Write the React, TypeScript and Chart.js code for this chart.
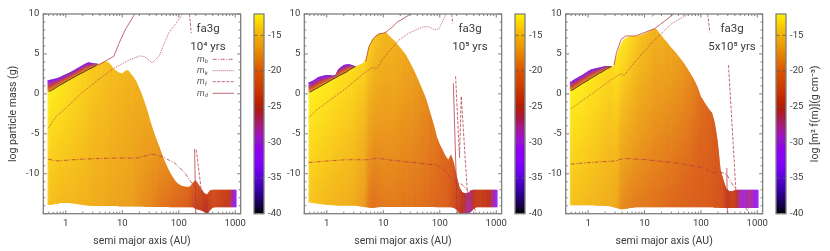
import React, { useEffect, useRef } from "react";
import { Chart, registerables } from "chart.js";

Chart.register(...registerables);

const FONT = "Roboto";
const INK = "#3a3a3a";
const FRAME = "#808080";
const LINE = "rgba(176,56,66,0.85)";

const logAxisColumns = [
  -0.3,-0.25,-0.2,-0.15,-0.1,-0.05,0,0.05,0.1,0.15,
  0.2,0.25,0.3,0.35,0.4,0.45,0.5,0.55,0.6,0.65,
  0.7,0.75,0.8,0.85,0.9,0.95,1,1.05,1.1,1.15,
  1.2,1.25,1.3,1.35,1.4,1.45,1.5,1.55,1.6,1.65,
  1.7,1.75,1.8,1.85,1.9,1.95,2,2.05,2.1,2.15,
  2.2,2.25,2.3,2.35,2.4,2.45,2.5,2.55,2.6,2.65,
  2.7,2.75,2.8,2.85,2.9,2.95,3,
];
const xTickValues = [0.4,0.5,0.6,0.7,0.8,0.9,1,2,3,4,5,6,7,8,9,10,20,30,40,50,60,70,80,90,100,200,300,400,500,600,700,800,900,1000];
const xMajorLabels = [1, 10, 100, 1000];
const yLabelled = [10, 5, 0, -5, -10];
const colorbarTicks = [-15, -20, -25, -30, -35, -40];
const paletteValues = [-12, -13.5, -15, -17, -20, -22.5, -25, -26.5, -28, -29.5, -31, -33, -35, -37, -39, -40];
const paletteColors = ["#fff200","#fbd000","#f2b000","#e99000","#d95400","#cc3a00","#b61a00","#a81a40","#a41a90","#9c10d0","#9000f0","#8000ff","#5a00d8","#34009a","#120040","#000000"];

// ---------- panel 1: 10^4 yrs
const p1Top = [
  0.3,0.45,0.65,0.9,1.1,1.3,1.5,1.7,1.9,2.1,
  2.3,2.5,2.65,2.85,3.05,3.2,3.4,3.6,3.75,3.95,
  4.05,4,3.6,3.1,2.85,2.65,2.55,2.85,3,2.55,
  2.1,1.55,0.75,-0.1,-1.15,-2.2,-3.5,-4.6,-5.6,-6.5,
  -7.5,-8.4,-9.2,-9.9,-10.5,-11,-11.3,-11.5,-11.6,-11.65,
  -11.6,-11.1,-10.8,-11.3,-11.9,-12.4,-12.6,-12.1,-12,-12,
  -12,-12,-12,-12,-12,-12,-12,
];
const p1Bottom = [
  -13.9,-13.9,-13.8,-13.8,-13.65,-13.65,-13.65,-13.65,-13.7,-13.75,
  -13.8,-13.85,-13.9,-13.95,-14,-14,-14.05,-14.05,-14.05,-14.05,
  -14.05,-14.05,-14.05,-14.05,-14.05,-14.1,-14.1,-14.1,-14.1,-14.1,
  -14.1,-14.1,-14.1,-14.1,-14.15,-14.15,-14.15,-14.15,-14.15,-14.15,
  -14.15,-14.15,-14.15,-14.2,-14.2,-14.2,-14.2,-14.2,-14.2,-14.2,
  -14.2,-14.2,-14.4,-14.5,-14.6,-14.8,-15,-14.6,-14.25,-14.2,
  -14.2,-14.2,-14.2,-14.2,-14.2,-14.2,-14.2,
];
const p1ValueTop = [
  -12.3,-12.4,-12.5,-12.6,-12.7,-12.8,-12.9,-13,-13.2,-13.3,
  -13.4,-13.5,-13.6,-13.7,-13.8,-14,-14.1,-14.2,-14.3,-14.4,
  -14.5,-14.6,-14.7,-14.8,-14.9,-15,-15.1,-15.2,-15.3,-15.4,
  -15.5,-15.6,-15.7,-15.8,-16,-16.2,-16.4,-16.6,-16.9,-17.2,
  -17.5,-17.8,-18.1,-18.4,-18.7,-19,-19.2,-19.4,-19.6,-19.8,
  -20,-20.5,-21,-22,-22.5,-23,-23.5,-23,-22.5,-22.5,
  -23,-23,-23.5,-23.5,-24,-26,-32,
];
const p1ValueBottom = [
  -14.6,-14.7,-14.8,-14.9,-15,-15,-15.1,-15.1,-15.2,-15.2,
  -15.3,-15.3,-15.4,-15.5,-15.6,-15.7,-15.8,-15.9,-16,-16,
  -16.1,-16.2,-16.3,-16.4,-16.5,-16.5,-16.6,-16.7,-16.8,-16.9,
  -17,-17.2,-17.4,-17.6,-17.8,-18,-18.2,-18.4,-18.6,-18.8,
  -19,-19.2,-19.4,-19.6,-19.8,-20,-20.2,-20.4,-20.6,-20.8,
  -21,-23,-23.5,-24,-24,-25,-26,-24,-23,-23,
  -23.5,-23.5,-24,-24,-24.5,-28,-33,
];
const p1CapTop = [1.75,1.8,1.9,2,2.1,2.3,2.45,2.6,2.8,3,3.2,3.4,3.6,3.8,3.95,3.9,3.85,3.8];
const p1Mk = [[-0.31,-4.3],[-0.17,-2.8],[0,-1.8],[0.28,0.1],[0.57,1.75],[0.85,3.2],[1.14,4.3],[1.31,4.75],[1.39,4.67],[1.53,3.9],[1.65,4.7],[1.82,7.6],[1.99,9.2],[2.07,10]];
const p1Mb = [[-0.31,-8.17],[-0.17,-8.4],[0.28,-8.17],[0.85,-8.04],[1.25,-8.04],[1.53,-7.55],[1.7,-7.83],[1.93,-8.67],[2.1,-9.83],[2.21,-10.96],[2.33,-12],[2.39,-12.6]];
const p1Md = [[0.57,3.6],[0.7,4.1],[0.85,4.7],[0.94,6.3],[1.05,8],[1.22,10],[1.23,null],[2.28,null],[2.28,-6.9],[2.3,-15]];
const p1Mf = [[2.19,10],[2.22,7.6],[2.23,null],[2.29,null],[2.31,-7],[2.39,-11.6],[2.45,-13.3],[2.54,-15]];

// ---------- panel 2: 10^5 yrs
const p2Top = [
  0.2,0.4,0.6,0.8,1,1.2,1.4,1.6,1.8,2,
  2.2,2.4,2.55,2.75,3,3.2,3.4,3.55,3.7,3.9,
  4.5,6,6.7,7.1,7.45,7.55,7.6,7.7,7.3,6.95,
  6.65,6.2,5.8,5.35,4.9,4.25,3.55,2.85,2.05,1.25,
  0.4,-0.45,-1.6,-2.8,-4,-5.4,-6.3,-7,-7.75,-8.25,
  -7.6,-8.6,-10.3,-11.7,-12.3,-12.45,-12.4,-12.05,-12,-12,
  -12,-12,-12,-12,-12,-12,-12,
];
const p2Bottom = [
  -13.6,-13.65,-13.7,-13.75,-13.8,-13.85,-13.9,-13.9,-13.95,-13.95,
  -14,-14,-14,-14,-14,-14,-14,-14.05,-14.1,-14.15,
  -14.2,-14.25,-14.3,-14.25,-14.2,-14.15,-14.15,-14.15,-14.15,-14.15,
  -14.15,-14.15,-14.15,-14.15,-14.15,-14.15,-14.15,-14.15,-14.15,-14.15,
  -14.15,-14.15,-14.15,-14.15,-14.15,-14.2,-14.2,-14.2,-14.2,-14.2,
  -14.2,-14.3,-14.5,-15,-15,-15,-15,-14.8,-14.4,-14.2,
  -14.2,-14.2,-14.2,-14.2,-14.2,-14.2,-14.2,
];
const p2ValueTop = [
  -12.2,-12.3,-12.3,-12.4,-12.4,-12.5,-12.6,-12.6,-12.7,-12.8,
  -12.9,-13,-13,-13.1,-13.1,-13.2,-13.3,-13.4,-13.5,-13.6,
  -13.6,-13.8,-14,-14.3,-14.6,-14.8,-15,-15.1,-15.2,-15.3,
  -15.4,-15.6,-15.8,-16,-16.2,-16.4,-16.6,-16.8,-17,-17.3,
  -17.6,-17.9,-18.2,-18.5,-18.8,-19.1,-19.4,-19.7,-20,-20.2,
  -20.5,-21,-22,-23,-24,-25,-27,-28,-25,-24,
  -24,-24,-24,-24.5,-25,-27,-31,
];
const p2ValueBottom = [
  -14.4,-14.5,-14.6,-14.7,-14.8,-14.9,-15,-15.1,-15.2,-15.3,
  -15.4,-15.5,-15.5,-15.6,-15.7,-15.8,-16,-16.3,-16.6,-17,
  -17.5,-18.8,-19.2,-19.5,-19.3,-19.1,-18.9,-18.8,-18.8,-18.8,
  -18.9,-18.9,-19,-19,-19.1,-19.1,-19.2,-19.3,-19.3,-19.4,
  -19.5,-19.6,-19.7,-19.8,-19.9,-20,-20.2,-20.4,-20.6,-20.8,
  -21.5,-22.5,-23.5,-24,-25,-26,-28,-29,-25,-24,
  -24,-24,-24,-24.5,-25.5,-27.5,-32,
];
const p2CapTop = [1.5,1.65,1.85,2.1,2.2,2.3,2.35,2.35,2.3,2.35,3.05,3.35,3.6,3.7,3.7,3.6,3.5];
const p2Mk = [[-0.32,-2.96],[-0.16,-1.9],[0.32,0.58],[0.66,2.6],[0.8,3.3],[0.89,3.2],[1,4.46],[1.28,6.75],[1.45,7.6],[1.71,8.4],[1.81,8.4],[1.91,8],[1.99,8.2],[2.11,10]];
const p2Mb = [[-0.32,-8.6],[0,-8.4],[0.32,-8.25],[0.72,-8.25],[0.89,-8.05],[1.17,-8.33],[1.63,-8.67],[1.94,-8.9],[2.08,-9.5],[2.19,-10.5],[2.3,-11.2],[2.39,-11.3],[2.5,-12.2]];
const p2Md = [[0.69,4.05],[0.745,5.9],[0.83,7],[0.915,7.5],[1,7.6],[1.05,7.75],[1.15,8.3],[1.25,9],[1.35,9.4],[1.48,10],[1.49,null],[2.24,null],[2.24,1.33],[2.31,-15]];
const p2Mf = [[2.21,10],[2.23,8.8],[2.24,null],[2.27,null],[2.28,2.2],[2.35,-8],[2.38,-0.3],[2.49,-12.5],[2.53,-12.8],[2.65,-15]];

// ---------- panel 3: 5x10^5 yrs
const p3Top = [
  0.4,0.6,0.85,1.05,1.3,1.5,1.7,1.95,2.15,2.35,
  2.6,2.75,3,3.2,3.35,3.45,4.67,5.7,6.5,6.9,
  7.1,7.2,7.25,7.25,7.3,7.4,7.55,7.7,7.9,8.1,
  8.2,7.75,7.3,6.85,6.45,6,5.6,5.2,4.75,4.3,
  3.85,3.3,2.7,2.15,1.5,0.7,-0.33,-0.9,-1.45,-1.95,
  -2.4,-3.7,-6,-9.5,-10.75,-11.8,-12.15,-12.2,-12.05,-12,
  -12,-12,-12,-12,-12,-12,-12,
];
const p3Bottom = [
  -13.95,-13.95,-13.95,-13.95,-13.95,-13.95,-13.95,-13.95,-13.95,-14,
  -14,-14,-14.05,-14.05,-14.1,-14.2,-14.3,-14.4,-14.45,-14.4,
  -14.35,-14.3,-14.25,-14.2,-14.2,-14.2,-14.2,-14.2,-14.2,-14.2,
  -14.2,-14.2,-14.2,-14.2,-14.2,-14.2,-14.2,-14.2,-14.2,-14.2,
  -14.2,-14.2,-14.2,-14.2,-14.2,-14.2,-14.2,-14.2,-14.2,-14.2,
  -14.2,-14.25,-14.25,-14.3,-14.3,-14.3,-14.3,-14.3,-14.3,-14.3,
  -14.3,-14.3,-14.3,-14.3,-14.3,-14.3,-14.3,
];
const p3ValueTop = [
  -12.2,-12.3,-12.3,-12.4,-12.4,-12.5,-12.6,-12.7,-12.8,-12.9,
  -13,-13.1,-13.2,-13.3,-13.4,-13.4,-12.6,-12.5,-12.6,-12.8,
  -13,-13.3,-13.6,-13.9,-14.2,-14.5,-14.7,-14.9,-15.1,-15.3,
  -15.5,-15.6,-15.7,-15.9,-16,-16.2,-16.4,-16.6,-16.8,-17,
  -17.2,-17.5,-17.8,-18.2,-18.6,-19,-19.4,-19.7,-20,-20.3,
  -20.6,-21,-21.5,-21.5,-21.8,-23.5,-24,-23.5,-23,-25,
  -28.5,-29,-29.5,-28,-27.5,-30,-31,
];
const p3ValueBottom = [
  -14.5,-14.6,-14.7,-14.8,-14.9,-15,-15,-15.1,-15.2,-15.3,
  -15.4,-15.5,-15.6,-15.7,-15.9,-16,-16.2,-16.6,-18,-18.2,
  -18.3,-18.5,-18.6,-18.7,-18.8,-18.9,-19,-19.1,-19.2,-19.3,
  -19.4,-19.5,-19.6,-19.7,-19.8,-19.9,-20,-20.1,-20.2,-20.3,
  -20.4,-20.5,-20.6,-20.7,-20.8,-20.9,-21,-21,-21.1,-21.2,
  -21.3,-21.5,-21.8,-22,-22.2,-23.8,-24.2,-23.8,-23.2,-25.2,
  -28.8,-29.2,-29.8,-28.2,-27.8,-30.2,-31.2,
];
const p3CapTop = [1.55,1.8,2,2.2,2.4,2.6,2.85,3.05,3.15,3.25,3.3,3.4,3.5,3.5,3.5];
const p3Mk = [[-0.31,-1.87],[0,-0.33],[0.36,1.54],[0.57,2.5],[0.64,2.33],[0.81,3.83],[1.15,6.54],[1.49,8.83],[1.78,10]];
const p3Mb = [[-0.31,-8.8],[0,-8.6],[0.47,-8.4],[0.64,-8.08],[1.04,-8.25],[1.6,-8.67],[2.06,-9.3],[2.23,-9.9],[2.32,-9.7],[2.46,-10.1],[2.54,-11.1],[2.62,-12]];
const p3Md = [[0.46,3.6],[0.5,5.08],[0.585,6.83],[0.67,7.25],[0.84,7.25],[1.18,8.17],[1.52,10],[1.53,null],[2.45,null],[2.46,-9.3],[2.47,-15]];
const p3Mf = [[1.13,9.7],[1.18,10],[1.19,null],[2.11,null],[2.12,10],[2.16,7.7],[2.17,null],[2.48,null],[2.49,3.6],[2.62,-12],[2.63,null],[2.79,null],[2.8,-14.3],[2.86,-15]];

const rgbOf = (hex: string) => [1, 3, 5].map((k) => parseInt(hex.slice(k, k + 2), 16));
function paletteColor(v: number) {
  const x = Math.min(-12, Math.max(-40, v));
  let i = 0;
  while (i < paletteValues.length - 2 && x < paletteValues[i + 1]) i++;
  const t = (paletteValues[i] - x) / (paletteValues[i] - paletteValues[i + 1]);
  const a = rgbOf(paletteColors[i]);
  const b = rgbOf(paletteColors[i + 1]);
  return `rgb(${a.map((c, k) => Math.round(c + (b[k] - c) * t)).join(",")})`;
}

function columnGradient(c: any, yTop: number, yBottom: number, vTop: number, vBottom: number) {
  if (!c.chart.chartArea) return paletteColor(vTop);
  const y = c.chart.scales.y;
  const g = c.chart.ctx.createLinearGradient(0, y.getPixelForValue(yTop), 0, y.getPixelForValue(yBottom));
  for (let s = 0; s <= 8; s++) g.addColorStop(s / 8, paletteColor(vTop + ((vBottom - vTop) * s) / 8));
  return g;
}

function outlinePath(chart: any, top: number[], bottom: number[]) {
  const { x, y } = chart.scales;
  const n = top.length;
  const half = 0.025;
  const ctx = chart.ctx;
  ctx.beginPath();
  ctx.moveTo(x.getPixelForValue(10 ** (logAxisColumns[0] - half)), y.getPixelForValue(top[0]));
  for (let i = 0; i < n; i++) ctx.lineTo(x.getPixelForValue(10 ** logAxisColumns[i]), y.getPixelForValue(top[i]));
  ctx.lineTo(x.getPixelForValue(10 ** (logAxisColumns[n - 1] + half)), y.getPixelForValue(top[n - 1]));
  ctx.lineTo(x.getPixelForValue(10 ** (logAxisColumns[n - 1] + half)), y.getPixelForValue(bottom[n - 1]));
  for (let i = n - 1; i >= 0; i--) ctx.lineTo(x.getPixelForValue(10 ** logAxisColumns[i]), y.getPixelForValue(bottom[i]));
  ctx.lineTo(x.getPixelForValue(10 ** (logAxisColumns[0] - half)), y.getPixelForValue(bottom[0]));
  ctx.closePath();
}

const outlineClip = {
  id: "outlineClip",
  beforeDatasetDraw(chart: any, args: any) {
    const d = chart.data.datasets[args.index];
    if (!d.outline) return;
    chart.ctx.save();
    outlinePath(chart, d.outline[0], d.outline[1]);
    chart.ctx.clip();
    chart.ctx.filter = "blur(1.4px)";
  },
  afterDatasetDraw(chart: any, args: any) {
    if (chart.data.datasets[args.index].outline) chart.ctx.restore();
  },
};

const frameTicks = {
  id: "frameTicks",
  afterDatasetsDraw(chart: any) {
    const { ctx, chartArea: a, scales } = chart;
    ctx.save();
    ctx.strokeStyle = "#5a5a5a";
    ctx.lineWidth = 0.8;
    const seg = (x1: number, y1: number, x2: number, y2: number) => {
      ctx.beginPath();
      ctx.moveTo(x1, y1);
      ctx.lineTo(x2, y2);
      ctx.stroke();
    };
    scales.y.ticks.forEach((t: any) => {
      const py = scales.y.getPixelForValue(t.value);
      const len = t.value % 5 === 0 ? 3.5 : 2;
      seg(a.left, py, a.left + len, py);
      seg(a.right, py, a.right - len, py);
    });
    if (scales.x.type === "logarithmic") {
      scales.x.ticks.forEach((t: any) => {
        const px = scales.x.getPixelForValue(t.value);
        const len = xMajorLabels.includes(t.value) ? 3.5 : 2;
        seg(px, a.bottom, px, a.bottom - len);
        seg(px, a.top, px, a.top + len);
      });
    }
    ctx.strokeStyle = FRAME;
    ctx.lineWidth = 1.3;
    ctx.strokeRect(a.left, a.top, a.right - a.left, a.bottom - a.top);
    ctx.restore();
  },
};

const panelNotes = {
  id: "panelNotes",
  afterDraw(chart: any) {
    const o = chart.options.plugins.panelNotes;
    if (!o) return;
    const { ctx } = chart;
    ctx.save();
    ctx.fillStyle = INK;
    ctx.textBaseline = "middle";
    ctx.textAlign = "center";
    ctx.font = `11.5px ${FONT}`;
    ctx.fillText(o.name, o.cx, 29);
    ctx.fillText(o.age, o.cx, 47);
    if (o.legend) {
      chart.data.datasets.filter((d: any) => d.inLegend).forEach((d: any, i: number) => {
        const y = [59.3, 70.7, 81.7, 93.3][i];
        ctx.textAlign = "left";
        ctx.fillStyle = "#555";
        ctx.font = `italic 9px ${FONT}`;
        ctx.fillText(d.label[0], 197, y);
        const w = ctx.measureText(d.label[0]).width;
        ctx.font = `italic 6px ${FONT}`;
        ctx.fillText(d.label.slice(1), 197 + w, y + 2.5);
        ctx.beginPath();
        ctx.strokeStyle = d.borderColor;
        ctx.lineWidth = d.borderWidth;
        ctx.setLineDash(d.borderDash || []);
        ctx.moveTo(212.7, y);
        ctx.lineTo(234, y);
        ctx.stroke();
      });
    }
    ctx.restore();
  },
};

const sideTitle = {
  id: "sideTitle",
  afterDraw(chart: any) {
    const o = chart.options.plugins.sideTitle;
    if (!o || !o.text) return;
    const { ctx, chartArea: a } = chart;
    ctx.save();
    ctx.translate(o.x, (a.top + a.bottom) / 2);
    ctx.rotate(-Math.PI / 2);
    ctx.textAlign = "center";
    ctx.textBaseline = "middle";
    ctx.fillStyle = INK;
    ctx.font = `10.5px ${FONT}`;
    ctx.fillText(o.text, 0, 0);
    ctx.restore();
  },
};

type Panel = {
  left: number; areaLeft: number; areaRight: number; yTitle: string;
  top: number[]; bottom: number[]; vTop: number[]; vBottom: number[]; capTop: number[];
  mb: any[]; mk: any[]; mf: any[]; md: any[];
  name: string; age: string; cx: number; legend: boolean;
  barLeft: number; barTitle: string;
};

const panels: Panel[] = [
  { left: 0, areaLeft: 43.3, areaRight: 248.3, yTitle: "log particle mass (g)", top: p1Top, bottom: p1Bottom, vTop: p1ValueTop, vBottom: p1ValueBottom, capTop: p1CapTop, mb: p1Mb, mk: p1Mk, mf: p1Mf, md: p1Md, name: "fa3g", age: "10\u2074 yrs", cx: 208, legend: true, barLeft: 253.7, barTitle: "" },
  { left: 261, areaLeft: 304.3, areaRight: 509, yTitle: "", top: p2Top, bottom: p2Bottom, vTop: p2ValueTop, vBottom: p2ValueBottom, capTop: p2CapTop, mb: p2Mb, mk: p2Mk, mf: p2Mf, md: p2Md, name: "fa3g", age: "10\u2075 yrs", cx: 209, legend: false, barLeft: 515, barTitle: "" },
  { left: 522, areaLeft: 565.7, areaRight: 770, yTitle: "", top: p3Top, bottom: p3Bottom, vTop: p3ValueTop, vBottom: p3ValueBottom, capTop: p3CapTop, mb: p3Mb, mk: p3Mk, mf: p3Mf, md: p3Md, name: "fa3g", age: "5x10\u2075 yrs", cx: 210, legend: false, barLeft: 776, barTitle: "log [m\u00b2 f(m)](g cm\u207b\u00b3)" },
];

const AREA_TOP = 14;
const AREA_BOTTOM = 213.7;
const HEIGHT = 251;
const WIDTH = 250;

const toPoints = (pairs: any[]) => pairs.map(([lg, m]) => ({ x: 10 ** lg, y: m }));
const neighbours = (arr: number[], i: number) => [arr[i - 1] ?? arr[i], arr[i], arr[i + 1] ?? arr[i]];

function mainConfig(p: Panel): any {
  const body = logAxisColumns.map((lg, i) => ({
    x: 10 ** lg,
    y: [Math.min(...neighbours(p.bottom, i)) - 1, Math.max(...neighbours(p.top, i)) + 1],
  }));
  const capBottom = p.top.slice(0, p.capTop.length);
  const cap = p.capTop.map((hi, i) => ({
    x: 10 ** logAxisColumns[i],
    y: [Math.min(...neighbours(capBottom, i)) - 1, Math.max(...neighbours(p.capTop, i)) + 1],
  }));
  const lineStyle = { type: "line", borderColor: LINE, borderWidth: 0.9, pointRadius: 0, fill: false, tension: 0, spanGaps: false, order: 1, inLegend: true };
  return {
    type: "bar",
    data: {
      datasets: [
        {
          label: "dust", data: body, order: 10, grouped: false, outline: [p.top, p.bottom],
          barPercentage: 1.5, categoryPercentage: 1, borderWidth: 0,
          backgroundColor: (c: any) =>
            c.dataIndex === undefined ? paletteColor(-15) : columnGradient(c, p.top[c.dataIndex], p.bottom[c.dataIndex], p.vTop[c.dataIndex], p.vBottom[c.dataIndex]),
        },
        {
          label: "upper edge", data: cap, order: 9, grouped: false, outline: [p.capTop, capBottom],
          barPercentage: 1.5, categoryPercentage: 1, borderWidth: 0,
          backgroundColor: (c: any) =>
            c.dataIndex === undefined ? paletteColor(-30) : columnGradient(c, p.capTop[c.dataIndex], capBottom[c.dataIndex], -35, -17),
        },
        { type: "line", label: "edge line", data: capBottom.map((m, i) => ({ x: 10 ** logAxisColumns[i], y: m })), borderColor: "#26221a", borderWidth: 0.8, pointRadius: 0, order: 2 },
        { ...lineStyle, label: "mb", data: toPoints(p.mb), borderDash: [4, 1.5, 1, 1.5] },
        { ...lineStyle, label: "mk", data: toPoints(p.mk), borderDash: [1, 1] },
        { ...lineStyle, label: "mf", data: toPoints(p.mf), borderDash: [3, 1.5] },
        { ...lineStyle, label: "md", data: toPoints(p.md) },
      ],
    },
    options: {
      animation: false,
      responsive: false,
      devicePixelRatio: 1,
      layout: { padding: { top: AREA_TOP, bottom: 0, left: 0, right: WIDTH - (p.areaRight - p.left) } },
      plugins: {
        legend: { display: false },
        tooltip: { enabled: false },
        panelNotes: { name: p.name, age: p.age, cx: p.cx, legend: p.legend },
      },
      scales: {
        x: {
          type: "logarithmic",
          min: 0.4,
          max: 1245,
          grid: { display: false, drawTicks: false },
          border: { display: false },
          afterBuildTicks: (s: any) => { s.ticks = xTickValues.map((value) => ({ value })); },
          afterFit: (s: any) => { s.height = HEIGHT - AREA_BOTTOM; },
          ticks: {
            autoSkip: false, maxRotation: 0, padding: 4, color: INK, font: { family: FONT, size: 9.5 },
            callback: (v: number) => (xMajorLabels.includes(v) ? String(v) : ""),
          },
          title: { display: true, text: "semi major axis (AU)", color: INK, font: { family: FONT, size: 10.5 }, padding: { top: 3, bottom: 3 } },
        },
        y: {
          type: "linear",
          min: -15,
          max: 10,
          grid: { display: false, drawTicks: false },
          border: { display: false },
          afterFit: (s: any) => { s.width = p.areaLeft - p.left; },
          ticks: {
            stepSize: 1, autoSkip: false, padding: 4, color: INK, font: { family: FONT, size: 9.5 },
            callback: (v: number) => (yLabelled.includes(v) ? String(v) : ""),
          },
          title: { display: !!p.yTitle, text: p.yTitle, color: INK, font: { family: FONT, size: 10.5 }, padding: { top: 7, bottom: 0 } },
        },
      },
    },
    plugins: [outlineClip, frameTicks, panelNotes],
  };
}

function barConfig(p: Panel, width: number): any {
  return {
    type: "bar",
    data: {
      labels: ["scale"],
      datasets: [
        {
          label: "colour scale", data: [[-40, -12]], barPercentage: 1, categoryPercentage: 1, borderWidth: 0,
          backgroundColor: (c: any) => {
            if (!c.chart.chartArea) return paletteColor(-20);
            const y = c.chart.scales.y;
            const g = c.chart.ctx.createLinearGradient(0, y.getPixelForValue(-12), 0, y.getPixelForValue(-40));
            paletteValues.forEach((v) => g.addColorStop((-12 - v) / 28, paletteColor(v)));
            return g;
          },
        },
      ],
    },
    options: {
      animation: false,
      responsive: false,
      devicePixelRatio: 1,
      layout: { padding: { top: AREA_TOP, bottom: HEIGHT - AREA_BOTTOM, left: 8, right: 0 } },
      plugins: {
        legend: { display: false },
        tooltip: { enabled: false },
        sideTitle: { text: p.barTitle, x: 815 - (p.barLeft - 8) },
      },
      scales: {
        x: { display: false },
        y: {
          position: "right",
          type: "linear",
          min: -40,
          max: -12,
          grid: { display: false, drawTicks: false },
          border: { display: false },
          afterBuildTicks: (s: any) => { s.ticks = colorbarTicks.map((value) => ({ value })); },
          afterFit: (s: any) => { s.width = width - 8 - 10; },
          ticks: { autoSkip: false, padding: 4, color: INK, font: { family: FONT, size: 9.5 }, callback: (v: number) => String(v) },
        },
      },
    },
    plugins: [frameTicks, sideTitle],
  };
}

function PanelView({ p }: { p: Panel }) {
  const main = useRef<HTMLCanvasElement>(null);
  const bar = useRef<HTMLCanvasElement>(null);
  const barWidth = p.barTitle ? 54 : 40;
  useEffect(() => {
    const a = new Chart(main.current!, mainConfig(p));
    const b = new Chart(bar.current!, barConfig(p, barWidth));
    return () => { a.destroy(); b.destroy(); };
  }, []);
  const soft = "blur(0.4px)";
  return (
    <>
      <canvas ref={main} width={WIDTH} height={HEIGHT} style={{ position: "absolute", left: p.left, top: 0, filter: soft, width: WIDTH, height: HEIGHT }} />
      <canvas ref={bar} width={barWidth} height={HEIGHT} style={{ position: "absolute", left: p.barLeft - 8, top: 0, filter: soft, width: barWidth, height: HEIGHT }} />
    </>
  );
}

export default function App() {
  return (
    <div style={{ position: "fixed", left: 0, top: 0, width: 830, height: 251, background: "#fff", overflow: "hidden" }}>
      {panels.map((p, i) => <PanelView key={i} p={p} />)}
    </div>
  );
}
